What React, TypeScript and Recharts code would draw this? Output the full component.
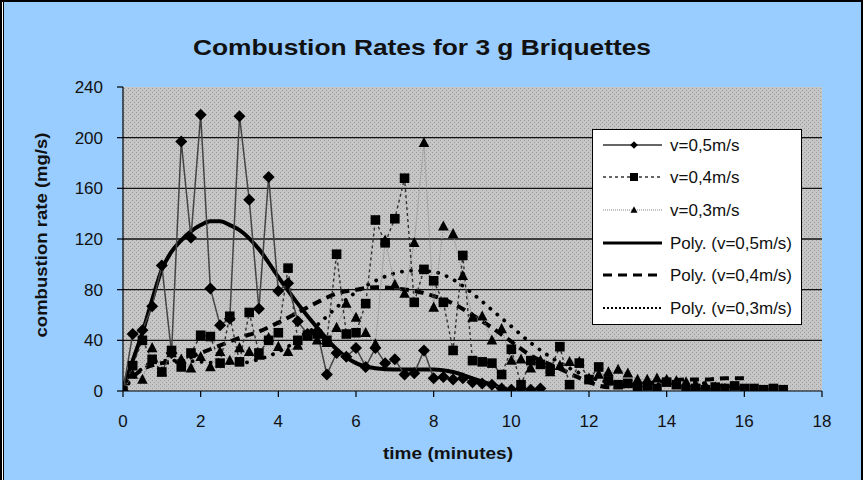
import React from 'react';
import { LineChart, Line, XAxis, YAxis, CartesianGrid } from 'recharts';

// ---- data ----
const TIME_05 = [0, 0.25, 0.5, 0.75, 1, 1.25, 1.5, 1.75, 2, 2.25, 2.5, 2.75, 3, 3.25, 3.5, 3.75, 4, 4.25, 4.5, 4.75, 5, 5.25, 5.5, 5.75, 6, 6.25, 6.5, 6.75, 7, 7.25, 7.5, 7.75, 8, 8.25, 8.5, 8.75, 9, 9.25, 9.5, 9.75, 10, 10.25, 10.5, 10.75];
const RATE_05 = [0, 45, 48, 67, 99, 30, 197, 121, 218, 81, 52, 57, 217, 151, 65, 169, 79, 85, 55, 45, 47, 13, 30, 27, 34, 19, 34, 22, 25, 13, 14, 32, 10, 11, 9, 10, 7, 6, 5, 2, 1, 2, 1, 2];

const TIME_04 = [0, 0.25, 0.5, 0.75, 1, 1.25, 1.5, 1.75, 2, 2.25, 2.5, 2.75, 3, 3.25, 3.5, 3.75, 4, 4.25, 4.5, 4.75, 5, 5.25, 5.5, 5.75, 6, 6.25, 6.5, 6.75, 7, 7.25, 7.5, 7.75, 8, 8.25, 8.5, 8.75, 9, 9.25, 9.5, 9.75, 10, 10.25, 10.5, 10.75, 11, 11.25, 11.5, 11.75, 12, 12.25, 12.5, 12.75, 13, 13.25, 13.5, 13.75, 14, 14.25, 14.5, 14.75, 15, 15.25, 15.5, 15.75, 16, 16.25, 16.5, 16.75, 17];
const RATE_04 = [0, 20, 40, 25, 15, 32, 19, 30, 44, 43, 22, 59, 23, 62, 30, 40, 46, 97, 40, 44, 45, 40, 108, 45, 46, 69, 135, 117, 136, 168, 70, 96, 87, 70, 32, 107, 24, 23, 22, 13, 33, 5, 24, 21, 17, 35, 5, 22, 9, 19, 8, 5, 6, 3, 4, 2, 7, 5, 1, 2, 1, 3, 2, 4, 2, 2, 1, 2, 1];

const TIME_03 = [0, 0.25, 0.5, 0.75, 1, 1.25, 1.5, 1.75, 2, 2.25, 2.5, 2.75, 3, 3.25, 3.5, 3.75, 4, 4.25, 4.5, 4.75, 5, 5.25, 5.5, 5.75, 6, 6.25, 6.5, 6.75, 7, 7.25, 7.5, 7.75, 8, 8.25, 8.5, 8.75, 9, 9.25, 9.5, 9.75, 10, 10.25, 10.5, 10.75, 11, 11.25, 11.5, 11.75, 12, 12.25, 12.5, 12.75, 13, 13.25, 13.5, 13.75, 14, 14.25, 14.5, 14.75, 15, 15.25, 15.5];
const RATE_03 = [0, 13, 9, 34, 15, 30, 25, 18, 27, 19, 31, 24, 34, 31, 28, 42, 35, 31, 36, 44, 40, 38, 50, 69, 58, 46, 37, 119, 84, 77, 117, 196, 66, 130, 124, 91, 58, 59, 40, 49, 24, 25, 18, 24, 15, 20, 23, 23, 10, 13, 15, 17, 14, 9, 9, 10, 9, 8, 7, 5, 4, 3, 2];

const POLY_TIME_05 = [0, 0.25, 0.5, 0.75, 1, 1.25, 1.5, 1.75, 2, 2.25, 2.5, 2.75, 3, 3.5, 4, 4.5, 5, 5.5, 6, 6.5, 7, 7.5, 8, 8.5, 9, 9.5, 10];
const POLY_RATE_05 = [2, 24, 46, 72, 96, 110, 119, 126, 131, 134, 134, 131, 127, 112, 90, 69, 50, 33, 22, 18, 17, 17, 17, 15, 10, 5, 0];

const POLY_TIME_04 = [0, 0.5, 1, 1.5, 2, 2.5, 3, 3.5, 4, 4.5, 5, 5.5, 6, 6.5, 7, 7.5, 8, 8.5, 9, 9.5, 10, 10.5, 11, 11.5, 12, 12.5, 13, 13.5, 14, 14.5, 15, 15.5, 16];
const POLY_RATE_04 = [3, 17, 22, 24, 30, 36, 42, 47, 54, 62, 70, 77, 80, 82, 81, 79, 75, 69, 60, 50, 39, 28, 21, 14, 7, 3, 4, 6, 8, 9, 9, 10, 10];

const POLY_TIME_03 = [0, 0.5, 1, 1.5, 2, 2.5, 3, 3.5, 4, 4.5, 5, 5.5, 6, 6.5, 7, 7.5, 8, 8.5, 9, 9.5, 10, 10.5, 11, 11.5, 12, 12.5, 13, 13.5, 14, 14.5, 15, 15.5, 16];
const POLY_RATE_03 = [0, 18, 24, 24, 23, 22, 22, 25, 31, 40, 52, 66, 78, 87, 93, 95, 94, 88, 77, 64, 51, 38, 27, 18, 11, 7, 5, 5, 6, 7, 6, 4, 2];

const X_TICKS = [0, 2, 4, 6, 8, 10, 12, 14, 16, 18];
const Y_TICKS = [0, 40, 80, 120, 160, 200, 240];
const GRID_VALUES = [40, 80, 120, 160, 200];

const TITLE = 'Combustion Rates for 3 g Briquettes';
const X_LABEL = 'time (minutes)';
const Y_LABEL = 'combustion rate (mg/s)';
const LEGEND_LABELS = ['v=0,5m/s', 'v=0,4m/s', 'v=0,3m/s', 'Poly. (v=0,5m/s)', 'Poly. (v=0,4m/s)', 'Poly. (v=0,3m/s)'];

const toPoints = (times: number[], rates: number[]) => times.map((t, i) => ({ t, rate: rates[i] }));

const D05 = toPoints(TIME_05, RATE_05);
const D04 = toPoints(TIME_04, RATE_04);
const D03 = toPoints(TIME_03, RATE_03);
const P05 = toPoints(POLY_TIME_05, POLY_RATE_05);
const P04 = toPoints(POLY_TIME_04, POLY_RATE_04);
const P03 = toPoints(POLY_TIME_03, POLY_RATE_03);

const FONT = '"Liberation Sans", Arial, Helvetica, sans-serif';

const diamondPath = (cx: number, cy: number, s: number) => `M${cx},${cy - s}L${cx + s},${cy}L${cx},${cy + s}L${cx - s},${cy}Z`;
const squarePath = (cx: number, cy: number, s: number) => `M${cx - s},${cy - s}H${cx + s}V${cy + s}H${cx - s}Z`;
const trianglePath = (cx: number, cy: number, s: number) => `M${cx},${cy - s * 1.1}L${cx + s},${cy + s * 0.8}L${cx - s},${cy + s * 0.8}Z`;

const DiamondDot = (props: any) => {
  const { cx, cy, index } = props;
  if (cx == null || cy == null) return <g key={`dd-${index}`} />;
  return <path key={`dd-${index}`} d={diamondPath(cx, cy, 6)} fill="#000" />;
};
const SquareDot = (props: any) => {
  const { cx, cy, index } = props;
  if (cx == null || cy == null) return <g key={`sd-${index}`} />;
  return <path key={`sd-${index}`} d={squarePath(cx, cy, 4.8)} fill="#000" />;
};
const TriangleDot = (props: any) => {
  const { cx, cy, index } = props;
  if (cx == null || cy == null) return <g key={`td-${index}`} />;
  return <path key={`td-${index}`} d={trianglePath(cx, cy, 5.3)} fill="#000" />;
};

const YTick = (props: any) => {
  const { x, y, payload } = props;
  return (
    <text x={x} y={y} dy={6} textAnchor="end" fontSize={17} fontFamily={FONT} fill="#111">
      {payload.value}
    </text>
  );
};
const XTick = (props: any) => {
  const { x, y, payload } = props;
  return (
    <text x={x} y={y} dy={28} textAnchor="middle" fontSize={17} fontFamily={FONT} fill="#111">
      {payload.value}
    </text>
  );
};

const gridGenerator = (props: any) => {
  const yAxis = props && props.yAxis;
  const scale = yAxis && yAxis.scale;
  if (typeof scale === 'function') return GRID_VALUES.map((v) => scale(v));
  if (scale && typeof scale.map === 'function') return GRID_VALUES.map((v) => scale.map(v));
  return [];
};

const LegendOverlay = () => {
  const left = 592;
  const top = 129;
  const rowY = [145, 177, 210, 243, 275, 308];
  const lx1 = 603;
  const lx2 = 662;
  const mx = 634;
  return (
    <g>
      <rect x={left + 0.5} y={top + 0.5} width={209} height={195} fill="#fff" stroke="#000" strokeWidth={1} />
      <line x1={lx1} x2={lx2} y1={rowY[0]} y2={rowY[0]} stroke="#333" strokeWidth={1.3} />
      <path d={diamondPath(mx, rowY[0], 3.8)} fill="#000" />
      <line x1={lx1} x2={lx2} y1={rowY[1]} y2={rowY[1]} stroke="#333" strokeWidth={1.3} strokeDasharray="3 3" />
      <path d={squarePath(mx, rowY[1], 4)} fill="#000" />
      <line x1={lx1} x2={lx2} y1={rowY[2]} y2={rowY[2]} stroke="#888" strokeWidth={1} strokeDasharray="1 1" />
      <path d={trianglePath(mx, rowY[2], 3.5)} fill="#000" />
      <line x1={lx1} x2={lx2} y1={rowY[3]} y2={rowY[3]} stroke="#000" strokeWidth={3} />
      <line x1={lx1} x2={lx2} y1={rowY[4]} y2={rowY[4]} stroke="#000" strokeWidth={3} strokeDasharray="9 6" />
      <line x1={lx1} x2={lx2} y1={rowY[5]} y2={rowY[5]} stroke="#000" strokeWidth={2} strokeDasharray="2 2" />
      {LEGEND_LABELS.map((label, i) => (
        <text key={label} x={670} y={rowY[i] + 6} fontSize={17} fontFamily={FONT} fill="#111">
          {label}
        </text>
      ))}
    </g>
  );
};

export default function App() {
  return (
    <div style={{ position: 'absolute', left: 0, top: 0, width: 866, height: 480, background: '#99CCFF', overflow: 'hidden' }}>
      <svg width={0} height={0} style={{ position: 'absolute' }}>
        <defs>
          <pattern id="plotDots" width={4} height={4} patternUnits="userSpaceOnUse">
            <rect width={4} height={4} fill="#C6C6C6" />
            <rect x={0} y={0} width={1} height={1} fill="#9A9A9A" />
            <rect x={2} y={2} width={1} height={1} fill="#9A9A9A" />
          </pattern>
        </defs>
      </svg>
      <div style={{ position: 'absolute', left: 0, top: 0 }}>
        <LineChart width={866} height={480} margin={{ top: 87, right: 44, bottom: 0, left: 0 }}>
          <CartesianGrid
            fill="url(#plotDots)"
            fillOpacity={1}
            vertical={false}
            horizontal={true}
            stroke="#111"
            strokeWidth={1.3}
            horizontalCoordinatesGenerator={gridGenerator}
          />
          <XAxis
            dataKey="t"
            type="number"
            domain={[0, 18]}
            ticks={X_TICKS}
            interval={0}
            height={89}
            tickSize={6}
            tickMargin={2}
            axisLine={{ stroke: '#000', strokeWidth: 1.2 }}
            tickLine={{ stroke: '#000', strokeWidth: 1.2 }}
            tick={<XTick />}
            allowDataOverflow
          />
          <YAxis
            type="number"
            domain={[0, 240]}
            ticks={Y_TICKS}
            interval={0}
            width={123}
            tickSize={6}
            tickMargin={14}
            axisLine={{ stroke: '#000', strokeWidth: 1.2 }}
            tickLine={{ stroke: '#000', strokeWidth: 1.2 }}
            tick={<YTick />}
            allowDataOverflow
          />
          <Line data={P05} dataKey="rate" type="monotone" stroke="#000" strokeWidth={4} dot={false} activeDot={false} isAnimationActive={false} />
          <Line data={P04} dataKey="rate" type="monotone" stroke="#000" strokeWidth={4} strokeDasharray="9 6" dot={false} activeDot={false} isAnimationActive={false} />
          <Line data={P03} dataKey="rate" type="monotone" stroke="#000" strokeWidth={3.8} strokeDasharray="0.1 9" strokeLinecap="round" dot={false} activeDot={false} isAnimationActive={false} />
          <Line data={D03} dataKey="rate" type="linear" stroke="#8a8a8a" strokeWidth={1} strokeDasharray="1 1" dot={TriangleDot} activeDot={false} isAnimationActive={false} />
          <Line data={D04} dataKey="rate" type="linear" stroke="#333" strokeWidth={1.4} strokeDasharray="3 3" dot={SquareDot} activeDot={false} isAnimationActive={false} />
          <Line data={D05} dataKey="rate" type="linear" stroke="#444" strokeWidth={1.5} dot={DiamondDot} activeDot={false} isAnimationActive={false} />
        </LineChart>
      </div>
      <svg width={866} height={480} style={{ position: 'absolute', left: 0, top: 0, pointerEvents: 'none' }}>
        <text x={422} y={55} textAnchor="middle" fontSize={22} fontWeight="bold" fontFamily={FONT} fill="#111" textLength={458} lengthAdjust="spacingAndGlyphs">
          {TITLE}
        </text>
        <text x={448} y={459} textAnchor="middle" fontSize={16} fontWeight="bold" fontFamily={FONT} fill="#111" textLength={130} lengthAdjust="spacingAndGlyphs">
          {X_LABEL}
        </text>
        <text x={47} y={235} transform="rotate(-90 47 235)" textAnchor="middle" fontSize={16} fontWeight="bold" fontFamily={FONT} fill="#111" textLength={205} lengthAdjust="spacingAndGlyphs">
          {Y_LABEL}
        </text>
        <LegendOverlay />
        <rect x={0} y={0} width={864} height={2} fill="#000" />
        <rect x={0} y={0} width={2} height={480} fill="#000" />
        <rect x={2} y={2} width={1} height={478} fill="#fff" />
        <rect x={3} y={2} width={1} height={478} fill="#000" />
        <rect x={861} y={0} width={2} height={480} fill="#000" />
        <rect x={863} y={0} width={3} height={480} fill="#fff" />
      </svg>
    </div>
  );
}
